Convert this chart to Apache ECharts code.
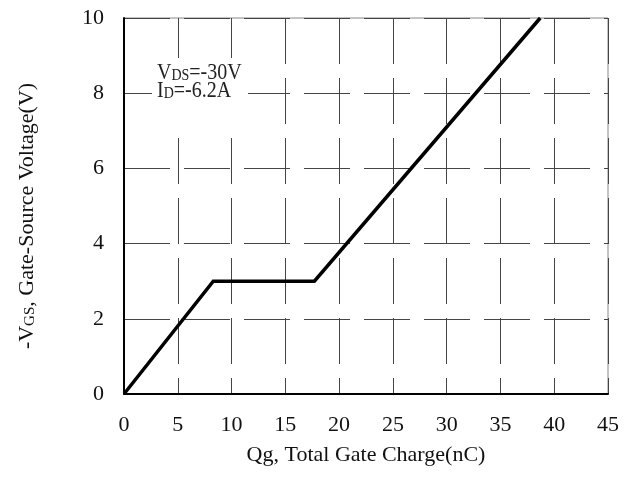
<!DOCTYPE html>
<html>
<head>
<meta charset="utf-8">
<script src="https://cdn.jsdelivr.net/npm/echarts@6/dist/echarts.min.js"></script>
<style>
html, body { margin: 0; padding: 0; background: #fff; }
#chart { width: 629px; height: 480px; }
</style>
</head>
<body>
<div id="chart"></div>
<script>
// gate charge curve
var qg = [0, 8.3, 17.7, 38.7];
var vgs = [0, 3, 3, 10];

var xTicks = [0, 5, 10, 15, 20, 25, 30, 35, 40, 45];
var yTicks = [0, 2, 4, 6, 8, 10];

var font = "'Liberation Serif', 'Times New Roman', serif";

var pts = [];
for (var i = 0; i < qg.length; i++) {
    pts.push([qg[i], vgs[i]]);
}

var chart = echarts.init(document.getElementById('chart'), null, { renderer: 'canvas' });

var subStyle = { fontFamily: font, fontSize: 14, fill: '#222', verticalAlign: 'bottom', padding: [6, 0, 0, 0] };

var option = {
    animation: false,
    backgroundColor: '#fff',
    grid: {
        left: 124,
        right: 21,
        top: 18,
        bottom: 86,
        show: true,
        borderColor: '#888',
        borderWidth: 1
    },
    xAxis: {
        type: 'value',
        min: xTicks[0],
        max: xTicks[xTicks.length - 1],
        interval: 5,
        name: 'Qg, Total Gate Charge(nC)',
        nameLocation: 'middle',
        nameGap: 50,
        nameTextStyle: { fontFamily: font, fontSize: 22, color: '#111' },
        axisLine: { lineStyle: { color: '#000', width: 2 } },
        axisTick: { show: false },
        axisLabel: { fontFamily: font, fontSize: 22, color: '#111', margin: 20 },
        splitLine: { lineStyle: { color: '#444', width: 1, type: [46, 14] } }
    },
    yAxis: {
        type: 'value',
        min: yTicks[0],
        max: yTicks[yTicks.length - 1],
        interval: 2,
        name: '-V{s|GS}, Gate-Source Voltage(V)',
        nameLocation: 'middle',
        nameRotate: 90,
        nameGap: 86,
        nameTextStyle: {
            fontFamily: font, fontSize: 22, color: '#111',
            padding: [0, 20, 0, 0],
            rich: {
                s: { fontFamily: font, fontSize: 15, color: '#111', verticalAlign: 'bottom', padding: [6, 0, 0, 0] }
            }
        },
        axisLine: { show: true, lineStyle: { color: '#000', width: 2 } },
        axisTick: { show: false },
        axisLabel: { fontFamily: font, fontSize: 22, color: '#111', margin: 20 },
        splitLine: { lineStyle: { color: '#444', width: 1, type: [46, 14] } }
    },
    graphic: [
        {
            type: 'rect',
            z: 9,
            shape: { x: 152, y: 58, width: 96, height: 66 },
            style: { fill: '#fff' }
        },
        {
            type: 'text',
            x: 157,
            y: 61,
            scaleY: 1.15,
            z: 10,
            style: {
                text: 'V{s|DS}=-30V',
                x: 0,
                y: 0,
                verticalAlign: 'top',
                fontFamily: font,
                fontSize: 20,
                fill: '#222',
                rich: { s: subStyle }
            }
        },
        {
            type: 'text',
            x: 157,
            y: 79,
            scaleY: 1.15,
            z: 10,
            style: {
                text: 'I{s|D}=-6.2A',
                x: 0,
                y: 0,
                verticalAlign: 'top',
                fontFamily: font,
                fontSize: 20,
                fill: '#222',
                rich: { s: subStyle }
            }
        }
    ],
    series: [
        {
            type: 'line',
            data: pts,
            showSymbol: false,
            symbol: 'none',
            lineStyle: { color: '#000', width: 3.5, join: 'miter' },
            z: 5
        }
    ]
};

chart.setOption(option);
</script>
</body>
</html>
